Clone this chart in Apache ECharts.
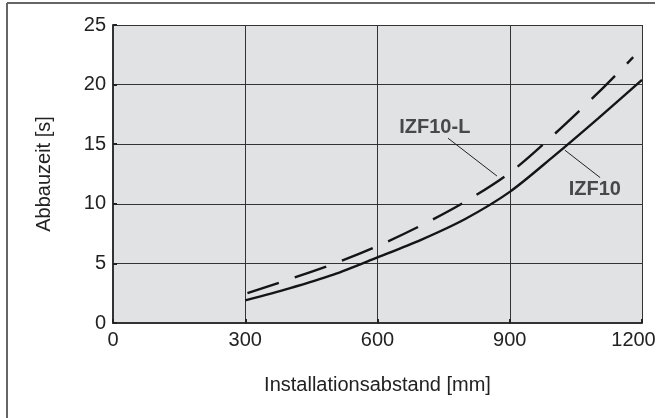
<!DOCTYPE html>
<html>
<head>
<meta charset="utf-8">
<style>html,body{margin:0;padding:0;background:#fff;}#c{width:658px;height:418px;}</style>
<script src="https://cdn.jsdelivr.net/npm/echarts@6/dist/echarts.min.js"></script>
</head>
<body>
<div id="c"></div>
<script>
const xTicks = [0, 300, 600, 900, 1200];
const yTicks = [0, 5, 10, 15, 20, 25];
const izf10 = [[300,1.9],[400,2.9],[500,4.05],[600,5.5],[700,7.0],[800,8.75],[900,11.0],[1000,14.0],[1100,17.15],[1200,20.4]];
const izf10L = [[305,2.5],[400,3.67],[500,4.95],[600,6.45],[700,8.2],[800,10.2],[900,12.6],[1000,15.8],[1100,19.3],[1180,22.3]];
const leaderL = [[760,15.5],[871,12.33]];
const leader = [[1025,14.5],[1105,12.2]];
const labelL = [730, 16.4, 'IZF10-L'];
const label = [1093, 11.2, 'IZF10'];
const xName = 'Installationsabstand [mm]';
const yName = 'Abbauzeit [s]';

const FONT = '"Liberation Sans", Arial, sans-serif';
const chart = echarts.init(document.getElementById('c'), null, {renderer: 'canvas'});
const xMax = xTicks[xTicks.length-1];
chart.setOption({
  animation: false,
  backgroundColor: '#fff',
  grid: {left: 113, right: 16, top: 25, bottom: 95, show: true, backgroundColor: '#e1e2e4', borderWidth: 0,
         containLabel: false, outerBoundsMode: 'none'},
  xAxis: {
    type: 'value', min: xTicks[0], max: xMax, interval: 300,
    name: xName, nameLocation: 'middle', nameGap: 52,
    nameTextStyle: {fontFamily: FONT, fontSize: 20, color: '#222'},
    axisLine: {show: true, lineStyle: {color: '#333', width: 2}},
    axisTick: {show: true, inside: true, length: 4, lineStyle: {color: '#222', width: 2}},
    axisLabel: {fontFamily: FONT, fontSize: 20, color: '#222', margin: 7,
      formatter: v => v === xMax ? '{e|' + v + '}' : String(v),
      rich: {e: {fontFamily: FONT, fontSize: 20, color: '#222', padding: [0, 17, 0, 0]}}},
    splitLine: {show: true, lineStyle: {color: '#333', width: 1}}
  },
  yAxis: {
    type: 'value', min: yTicks[0], max: yTicks[yTicks.length-1], interval: 5,
    name: yName, nameLocation: 'middle', nameGap: 59,
    nameTextStyle: {fontFamily: FONT, fontSize: 20, color: '#222'},
    axisLine: {show: true, lineStyle: {color: '#333', width: 2}},
    axisTick: {show: true, inside: true, length: 4, lineStyle: {color: '#222', width: 2}},
    axisLabel: {fontFamily: FONT, fontSize: 20, color: '#222', margin: 7, formatter: v => String(v)},
    splitLine: {show: true, lineStyle: {color: '#333', width: 1}}
  },
  graphic: [
    {type: 'line', shape: {x1: 7, y1: 3, x2: 655, y2: 3}, style: {stroke: '#666', lineWidth: 2}},
    {type: 'line', shape: {x1: 7, y1: 3, x2: 7, y2: 418}, style: {stroke: '#666', lineWidth: 2}}
  ],
  series: [
    {type: 'line', name: 'IZF10', data: izf10, smooth: 0.3, showSymbol: false,
     lineStyle: {color: '#151515', width: 2.4}},
    {type: 'line', name: 'IZF10-L', data: izf10L, smooth: 0.3, showSymbol: false,
     lineStyle: {color: '#151515', width: 2.4, type: [33, 17]}},
    {type: 'line', data: leaderL, showSymbol: false, lineStyle: {color: '#222', width: 1}},
    {type: 'line', data: leader, showSymbol: false, lineStyle: {color: '#222', width: 1}},
    {type: 'scatter', symbolSize: 0, data: [labelL, label],
     label: {show: true, position: 'inside', formatter: p => p.data[2],
             fontFamily: FONT, fontSize: 20, fontWeight: 'bold', color: '#222'}}
  ]
});
</script>
</body>
</html>
